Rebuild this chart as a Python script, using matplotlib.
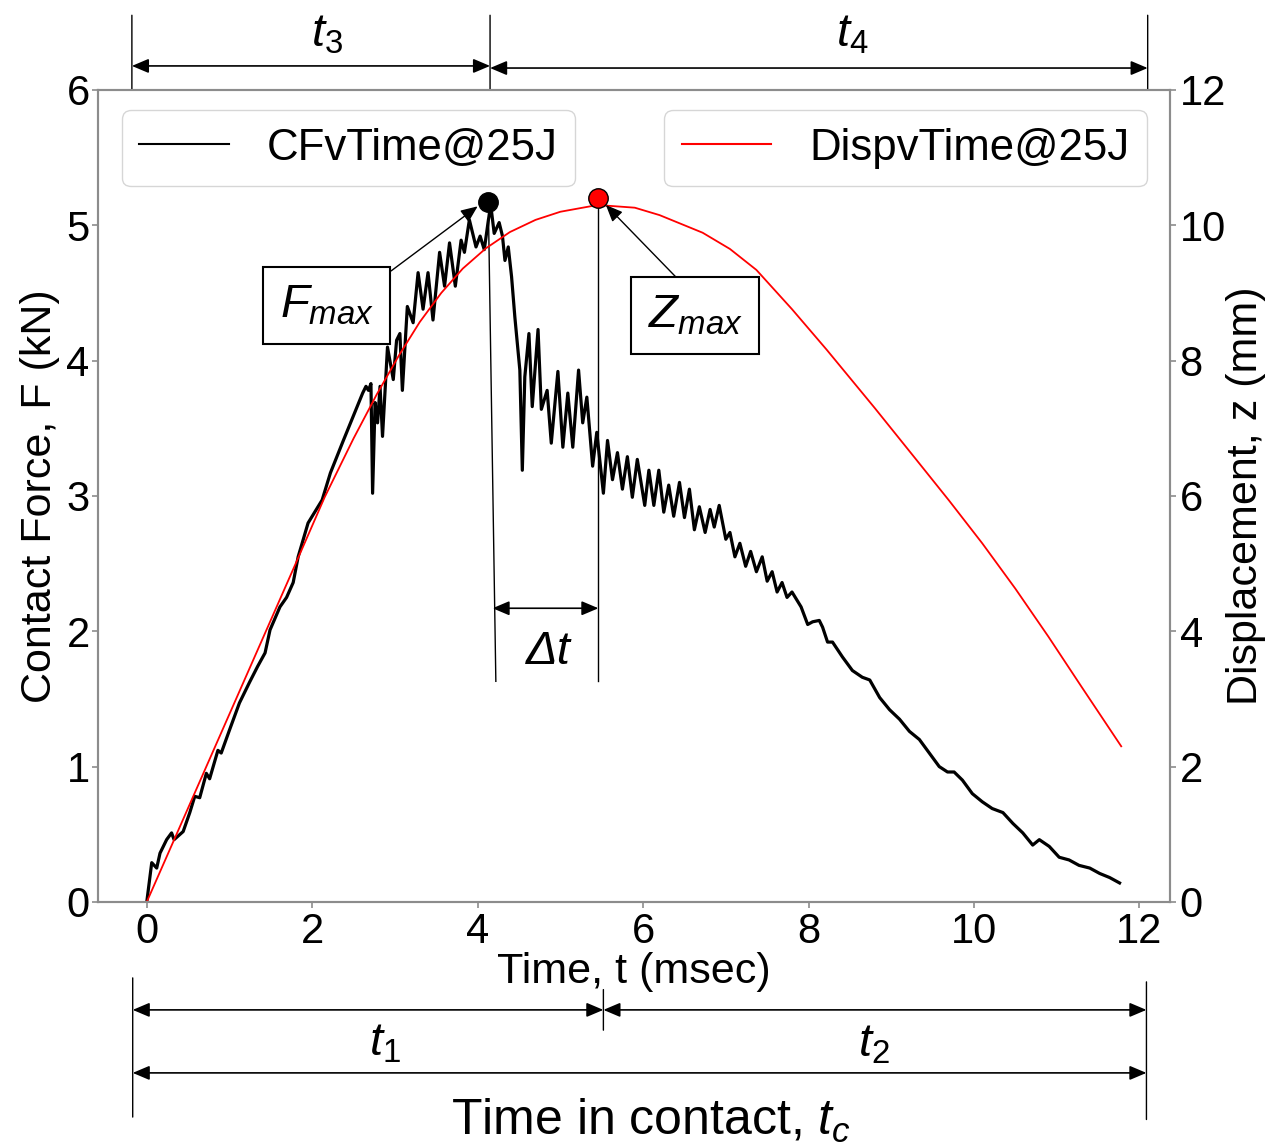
import matplotlib
matplotlib.use("Agg")
from matplotlib import pyplot as plt

plt.rcParams['font.family'] = ['Liberation Sans', 'DejaVu Sans']
plt.rcParams['mathtext.fontset'] = 'custom'
plt.rcParams['mathtext.rm'] = 'Liberation Sans'
plt.rcParams['mathtext.it'] = 'Liberation Sans:italic'

# contact force vs time (kN)
t_force = [0.00, 0.06, 0.12, 0.16, 0.24, 0.30, 0.33, 0.44, 0.52, 0.58,
           0.64, 0.72, 0.76, 0.86, 0.90, 1.00, 1.12, 1.24, 1.34, 1.43,
           1.49, 1.61, 1.69, 1.77, 1.83, 1.95, 2.12, 2.22, 2.37, 2.53,
           2.61, 2.65, 2.68, 2.71, 2.73, 2.76, 2.79, 2.82, 2.85, 2.91,
           2.98, 3.02, 3.06, 3.09, 3.15, 3.22, 3.28, 3.34, 3.40, 3.46,
           3.54, 3.60, 3.66, 3.73, 3.80, 3.84, 3.90, 3.98, 4.03, 4.08,
           4.13, 4.16, 4.20, 4.26, 4.30, 4.33, 4.37, 4.41, 4.45, 4.51,
           4.54, 4.57, 4.62, 4.66, 4.73, 4.77, 4.84, 4.89, 4.97, 5.03,
           5.09, 5.15, 5.22, 5.27, 5.32, 5.39, 5.44, 5.52, 5.57, 5.63,
           5.69, 5.75, 5.81, 5.87, 5.93, 6.02, 6.07, 6.13, 6.19, 6.25,
           6.31, 6.37, 6.44, 6.50, 6.56, 6.62, 6.68, 6.75, 6.81, 6.86,
           6.92, 7.00, 7.05, 7.11, 7.17, 7.24, 7.30, 7.37, 7.44, 7.50,
           7.56, 7.62, 7.68, 7.74, 7.80, 7.91, 7.99, 8.05, 8.13, 8.17,
           8.23, 8.29, 8.41, 8.53, 8.65, 8.74, 8.86, 8.98, 9.10, 9.22,
           9.34, 9.46, 9.58, 9.68, 9.76, 9.86, 9.98, 10.10, 10.22, 10.35,
           10.47, 10.59, 10.71, 10.79, 10.91, 11.03, 11.15, 11.27, 11.40, 11.52,
           11.64, 11.76]
force = [0.00, 0.29, 0.25, 0.36, 0.46, 0.51, 0.46, 0.52, 0.66, 0.78,
         0.77, 0.95, 0.91, 1.12, 1.10, 1.27, 1.47, 1.62, 1.74, 1.84,
         2.01, 2.18, 2.25, 2.36, 2.55, 2.80, 2.97, 3.17, 3.40, 3.64,
         3.76, 3.81, 3.78, 3.83, 3.02, 3.69, 3.54, 3.81, 3.44, 4.10,
         3.86, 4.15, 4.20, 3.78, 4.40, 4.28, 4.65, 4.38, 4.65, 4.30,
         4.80, 4.55, 4.87, 4.55, 4.89, 4.80, 5.04, 4.84, 4.92, 4.82,
         5.04, 5.14, 4.94, 5.02, 4.92, 4.74, 4.84, 4.62, 4.32, 3.93,
         3.19, 3.88, 4.20, 3.66, 4.23, 3.64, 3.78, 3.39, 3.92, 3.36,
         3.76, 3.36, 3.93, 3.54, 3.73, 3.22, 3.47, 3.02, 3.41, 3.12,
         3.32, 3.05, 3.29, 2.99, 3.27, 2.93, 3.19, 2.93, 3.19, 2.88,
         3.08, 2.85, 3.10, 2.84, 3.05, 2.75, 2.92, 2.73, 2.90, 2.77,
         2.93, 2.68, 2.73, 2.55, 2.65, 2.48, 2.59, 2.44, 2.55, 2.37,
         2.44, 2.29, 2.36, 2.25, 2.29, 2.18, 2.05, 2.07, 2.08, 2.03,
         1.92, 1.92, 1.81, 1.71, 1.66, 1.64, 1.51, 1.42, 1.35, 1.26,
         1.20, 1.10, 1.00, 0.96, 0.96, 0.90, 0.80, 0.74, 0.69, 0.66,
         0.58, 0.51, 0.42, 0.46, 0.41, 0.33, 0.31, 0.27, 0.25, 0.21,
         0.18, 0.14]

# displacement vs time (mm)
t_disp = [0, 0.72, 1.44, 1.80, 2.15, 2.50, 2.78, 3.05, 3.30, 3.56,
          3.82, 4.10, 4.39, 4.70, 5.00, 5.45, 5.90, 6.20, 6.72, 7.05,
          7.37, 7.80, 8.22, 8.80, 9.30, 9.70, 10.10, 10.50, 10.90, 11.30,
          11.78]
disp = [0, 2.0, 4.0, 5.0, 5.98, 6.85, 7.5, 8.08, 8.57, 9.0,
        9.36, 9.66, 9.9, 10.08, 10.2, 10.3, 10.26, 10.15, 9.89, 9.65,
        9.34, 8.76, 8.16, 7.3, 6.54, 5.93, 5.3, 4.63, 3.92, 3.18,
        2.3]

# peak points
t_fmax, f_max = 4.13, 5.17
t_zmax, z_max = 5.45, 10.40

# dimension marks along the time axis
t_top = [-0.18, 4.15, 12.10]
t_bot = [-0.17, 5.52, 12.085]

fig = plt.figure(figsize=(12.69, 11.46), dpi=100)
ax = fig.add_axes([0.0772, 0.213, 0.8448, 0.7085])
ax2 = ax.twinx()

line1, = ax.plot(t_force, force, color='black', lw=2.3, label='CFvTime@25J')
line2, = ax2.plot(t_disp, disp, color='red', lw=1.3, label='DispvTime@25J')

ax.set_xlim(-0.59, 12.37)
ax.set_ylim(0, 6)
ax2.set_ylim(0, 12)
ax.set_xticks([0, 2, 4, 6, 8, 10, 12])
ax.set_yticks([0, 1, 2, 3, 4, 5, 6])
ax2.set_yticks([0, 2, 4, 6, 8, 10, 12])

for a in (ax, ax2):
    for s in a.spines.values():
        s.set_color('0.55')
        s.set_linewidth(1.5)
    a.tick_params(labelsize=30, length=4, width=1.2, color='0.55')
ax.tick_params(axis='y', pad=2)
ax.tick_params(axis='x', pad=3)
ax2.tick_params(axis='y', pad=3)

ax.set_xlabel('Time, t (msec)', fontsize=31, labelpad=0)
ax.set_ylabel('Contact Force, F (kN)', fontsize=31)
ax2.set_ylabel('Displacement, z (mm)', fontsize=31)
ax.yaxis.set_label_coords(-0.035, 0.5)
ax2.yaxis.set_label_coords(1.052, 0.5)

leg1 = ax.legend(handles=[line1], loc='upper left', bbox_to_anchor=(0.0224, 0.975),
                 borderaxespad=0, fontsize=31.5, handlelength=2.05, handletextpad=0.85)
leg1.get_lines()[0].set_linewidth(1.5)
leg2 = ax2.legend(handles=[line2], loc='upper right', bbox_to_anchor=(0.9785, 0.975),
                  borderaxespad=0, fontsize=31.5, handlelength=2.05, handletextpad=0.87)
leg2.get_lines()[0].set_linewidth(1.5)

# peak markers and drop lines
ax.plot([t_fmax, 4.22], [f_max - 0.05, 1.63], color='black', lw=1)
ax2.plot([t_zmax, t_zmax], [z_max - 0.1, 3.26], color='black', lw=1)
ax.plot([t_fmax], [f_max], 'o', color='black', ms=14, zorder=5)
ax2.plot([t_zmax], [z_max], 'o', color='red', mec='black', mew=1, ms=14, zorder=5)

head = dict(arrowstyle='-|>,head_length=0.85,head_width=0.36', color='black',
            lw=1, mutation_scale=12, shrinkA=0, shrinkB=0)
both = dict(arrowstyle='<|-|>,head_length=0.85,head_width=0.36', color='black',
            lw=1.2, mutation_scale=12, shrinkA=0, shrinkB=0)

ax.annotate('$F_{max}$', xy=(4.0, 5.14), xytext=(2.175, 4.405),
            fontsize=34, ha='center', va='center',
            bbox=dict(boxstyle='square,pad=0.35', fc='white', ec='black', lw=1.5),
            arrowprops=dict(head, relpos=(1, 1)))
ax2.annotate('$Z_{max}$', xy=(5.55, 10.3), xytext=(6.63, 8.66),
             fontsize=34, ha='center', va='center',
             bbox=dict(boxstyle='square,pad=0.35', fc='white', ec='black', lw=1.5),
             arrowprops=dict(head, relpos=(0.47, 1)))

# delta t
ax.annotate('', xy=(4.18, 2.17), xytext=(5.46, 2.17), arrowprops=both)
ax.text(4.85, 1.85, 'Δt', fontsize=34, style='italic', ha='center', va='center')

# dimension lines above and below the axes
xt = ax.get_xaxis_transform()
for tx in t_top:
    ax.annotate('', xy=(tx, 1.0), xytext=(tx, 1.092), xycoords=xt, textcoords=xt,
                arrowprops=dict(arrowstyle='-', color='black', lw=1, shrinkA=0, shrinkB=0))
ax.annotate('', xy=(t_top[0], 1.0296), xytext=(t_top[1], 1.0296), xycoords=xt,
            textcoords=xt, arrowprops=both)
ax.annotate('', xy=(t_top[1], 1.027), xytext=(t_top[2], 1.027), xycoords=xt,
            textcoords=xt, arrowprops=both)
ax.text(2.175, 1.068, r'$t_{\mathit{3}}$', transform=xt, fontsize=34, ha='center', va='center')
ax.text(8.53, 1.068, r'$t_{\mathit{4}}$', transform=xt, fontsize=34, ha='center', va='center')

seg = [(-0.0936, -0.265), (-0.108, -0.158), (-0.0985, -0.268)]
for tx, (y0, y1) in zip(t_bot, seg):
    ax.annotate('', xy=(tx, y0), xytext=(tx, y1), xycoords=xt, textcoords=xt,
                arrowprops=dict(arrowstyle='-', color='black', lw=1, shrinkA=0, shrinkB=0))
ax.annotate('', xy=(t_bot[0], -0.133), xytext=(t_bot[1], -0.133), xycoords=xt,
            textcoords=xt, arrowprops=both)
ax.annotate('', xy=(t_bot[1], -0.133), xytext=(t_bot[2], -0.133), xycoords=xt,
            textcoords=xt, arrowprops=both)
ax.annotate('', xy=(t_bot[0], -0.2106), xytext=(t_bot[2], -0.2106), xycoords=xt,
            textcoords=xt, arrowprops=both)
ax.text(2.876, -0.174, r'$t_{\mathit{1}}$', transform=xt, fontsize=34, ha='center', va='center')
ax.text(8.785, -0.176, r'$t_{\mathit{2}}$', transform=xt, fontsize=34, ha='center', va='center')
ax.text(6.09, -0.287, 'Time in contact, $t_c$', transform=xt, fontsize=36,
        ha='center', va='baseline')

fig.savefig('out.png', dpi=100)
